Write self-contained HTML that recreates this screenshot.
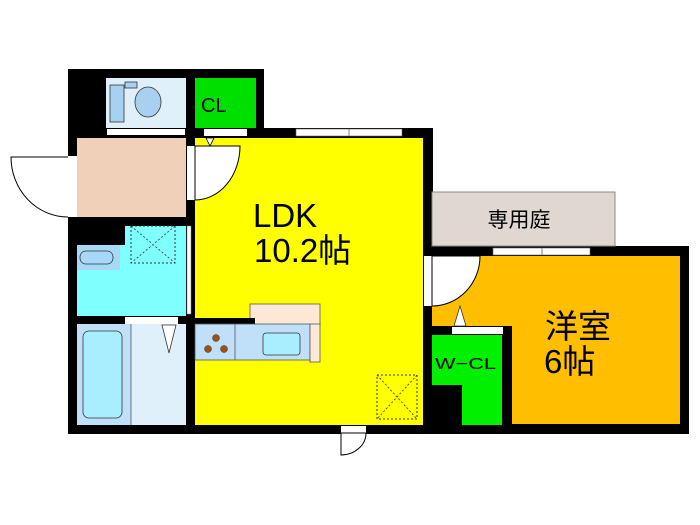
<!DOCTYPE html>
<html><head><meta charset="utf-8"><style>
html,body{margin:0;padding:0;background:#fff;width:700px;height:525px;overflow:hidden}
svg{display:block}
text{font-family:"Liberation Sans","Noto Sans CJK JP",sans-serif;fill:#000}
</style></head><body>
<svg width="700" height="525" viewBox="0 0 700 525" xmlns="http://www.w3.org/2000/svg">
<rect x="68" y="69" width="196" height="70" fill="#000"/>
<rect x="68" y="128" width="365" height="306" fill="#000"/>
<rect x="423" y="246" width="266" height="188" fill="#000"/>
<rect x="432" y="192" width="183" height="54" fill="#e0d8d0" stroke="#888" stroke-width="1"/>
<text x="519" y="227" font-size="21" text-anchor="middle">専用庭</text>
<rect x="106" y="78" width="80" height="50" fill="#dff0fb"/>
<rect x="110" y="85" width="14" height="37" fill="#a8d0f0" stroke="#333" stroke-width="0.8"/>
<rect x="125" y="82" width="12" height="6" fill="#a8d0f0" stroke="#333" stroke-width="0.8"/>
<ellipse cx="148" cy="102" rx="13" ry="15" fill="#a8d0f0" stroke="#333" stroke-width="0.8"/>
<rect x="107" y="129" width="78" height="6" fill="#fff"/>
<rect x="195" y="78" width="61" height="50" fill="#00e000"/>
<text x="201" y="112" font-size="20">CL</text>
<rect x="204" y="129" width="43" height="7" fill="#fff"/>
<rect x="77" y="138" width="109" height="79" fill="#f0d0b8"/>
<rect x="68" y="156" width="9" height="61" fill="#fff"/>
<path d="M68 157 L11 157 A57 60 0 0 0 68 217" fill="#fff" stroke="#000" stroke-width="1"/>
<rect x="195" y="138" width="228" height="287" fill="#ffff00"/>
<rect x="296" y="129" width="106" height="7" fill="#fff" stroke="#666" stroke-width="0.6"/>
<line x1="349" y1="129" x2="349" y2="136" stroke="#666" stroke-width="0.8"/>
<rect x="187" y="146" width="8" height="54" fill="#fff"/>
<path d="M195 146 L240 146 A45 54 0 0 1 195 200 Z" fill="#fff" stroke="#000" stroke-width="1"/>
<path d="M206 138 L214 138 L210 146 Z" fill="#fff" stroke="#000" stroke-width="0.8"/>
<text x="253" y="227" font-size="33">LDK</text>
<text x="254" y="262" font-size="33">10.2帖</text>
<rect x="77" y="226" width="109" height="90" fill="#80ffff"/>
<rect x="77" y="217" width="48" height="28" fill="#000"/>
<rect x="77" y="245" width="43" height="25" fill="#a8d8f8"/>
<rect x="80" y="251" width="33" height="13" rx="6" fill="#a8d8f8" stroke="#333" stroke-width="0.8"/>
<rect x="131" y="226" width="44" height="37" fill="none" stroke="#333" stroke-width="1" stroke-dasharray="2,2"/>
<path d="M131 226 L175 263 M175 226 L131 263" stroke="#333" stroke-width="0.8" stroke-dasharray="2,2"/>
<rect x="187" y="226" width="4" height="88" fill="#fff" stroke="#888" stroke-width="0.5"/>
<rect x="125" y="317" width="53" height="7" fill="#fff"/>
<rect x="77" y="324" width="54" height="101" fill="#c0e0fa"/>
<rect x="131" y="324" width="55" height="101" fill="#dff0fb"/>
<rect x="83" y="331" width="39" height="87" rx="6" fill="#a8eeff" stroke="#333" stroke-width="0.8"/>
<path d="M162 325 L176 325 L169 353 Z" fill="#fff" stroke="#333" stroke-width="0.8"/>
<line x1="131" y1="324" x2="131" y2="425" stroke="#555" stroke-width="0.8"/>
<rect x="250" y="304" width="70" height="22" fill="#fde8d8" stroke="#555" stroke-width="0.8"/>
<rect x="195" y="318" width="60" height="7" fill="#000"/>
<rect x="195" y="324" width="115" height="36" fill="#c0e0fa" stroke="#555" stroke-width="0.8"/>
<rect x="310" y="324" width="10" height="38" fill="#fde8d8" stroke="#555" stroke-width="0.8"/>
<line x1="235" y1="324" x2="235" y2="360" stroke="#555" stroke-width="0.8"/>
<circle cx="216" cy="338" r="3.5" fill="#a05010" stroke="#333" stroke-width="0.5"/>
<circle cx="208" cy="349" r="3.5" fill="#a05010" stroke="#333" stroke-width="0.5"/>
<circle cx="224" cy="349" r="3.5" fill="#a05010" stroke="#333" stroke-width="0.5"/>
<rect x="263" y="333" width="37" height="22" rx="3" fill="#a8eeff" stroke="#333" stroke-width="0.8"/>
<rect x="377" y="375" width="40" height="44" fill="none" stroke="#333" stroke-width="1" stroke-dasharray="2,2"/>
<path d="M377 375 L417 419 M417 375 L377 419" stroke="#333" stroke-width="0.8" stroke-dasharray="2,2"/>
<rect x="341" y="426" width="25" height="7" fill="#fff"/>
<path d="M341 433 L366 433 A25 22 0 0 1 341 455 Z" fill="#fff" stroke="#000" stroke-width="1"/>
<rect x="432" y="256" width="248" height="168" fill="#ffbf00"/>
<rect x="493" y="248" width="97" height="7" fill="#fff" stroke="#666" stroke-width="0.6"/>
<line x1="542" y1="248" x2="542" y2="255" stroke="#666" stroke-width="0.8"/>
<rect x="424" y="256" width="8" height="50" fill="#fff"/>
<path d="M432 256 L480 256 A48 50 0 0 1 432 306 Z" fill="#fff" stroke="#000" stroke-width="1"/>
<text x="545" y="338" font-size="33">洋室</text>
<text x="544" y="373" font-size="33">6帖</text>
<rect x="432" y="326" width="80" height="99" fill="#000"/>
<rect x="432" y="335" width="70" height="90" fill="#00f000"/>
<rect x="432" y="385" width="30" height="40" fill="#000"/>
<rect x="452" y="327" width="51" height="7" fill="#fff"/>
<path d="M454 326 L466 326 L460 306 Z" fill="#fff" stroke="#333" stroke-width="0.8"/>
<text x="435" y="369" font-size="16" textLength="61" lengthAdjust="spacingAndGlyphs">W−CL</text>
</svg>
</body></html>
